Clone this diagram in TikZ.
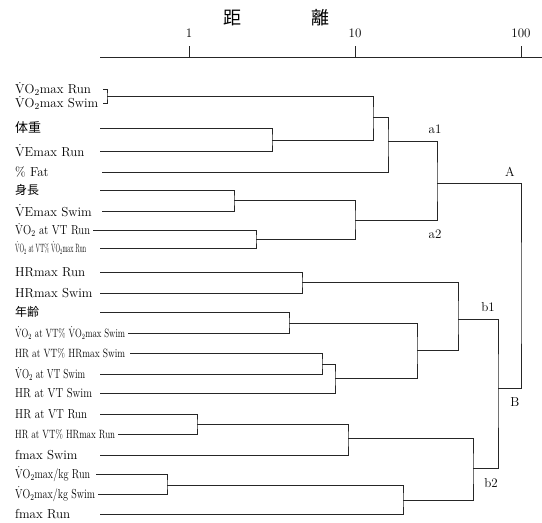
\documentclass[tikz,border=0pt]{standalone}
\usepackage{fontspec}
\newfontfamily\cjk{Noto Sans CJK JP}
\usepackage{tikz}

\newcommand{\Vdot}{$\dot{\mathrm{V}}$}
\newcommand{\Vo}{\Vdot O\textsubscript{2}}
\newcommand{\fitw}[2]{\resizebox{#1pt}{\height}{#2}}

\tikzset{
  lab/.style={anchor=west, inner sep=0pt, font=\fontsize{13}{13}\selectfont},
  small/.style={lab, font=\fontsize{12}{12}\selectfont},
  clab/.style={inner sep=0pt, font=\fontsize{13}{13}\selectfont},
  tree/.style={line width=0.6pt, black!85}
}

\begin{document}
\begin{tikzpicture}[x=1pt, y=-1pt]
\useasboundingbox (0,0) rectangle (542,523);

% title and distance axis
\node[font=\cjk\fontsize{18}{18}\selectfont] (ti1) at (232,18) {距};
\node[font=\cjk\fontsize{18}{18}\selectfont] (ti2) at (320,18) {離};
\coordinate (ax0) at (100,57); \coordinate (ax1) at (542,57);
\draw[tree] (ax0) -- (ax1);
\foreach \x/\t in {189/1, 355/10, 521/100} {
  \node[clab, font=\fontsize{13}{13}\selectfont] (tk\t) at (\x,33) {\t};
  \draw[tree] (\x,46) -- (\x,57);
}

% variable names
\node[lab] (l1) at (15,89) {\Vo max Run};
\node[lab] (l2) at (15,103) {\Vo max Swim};
\node[lab, font=\cjk\fontsize{13}{13}\selectfont] (l3) at (15,128) {体重};
\node[lab] (l4) at (15,151) {\Vdot Emax Run};
\node[lab] (l5) at (15,172) {\% Fat};
\node[lab, font=\cjk\fontsize{12}{12}\selectfont] (l6) at (15,190) {身長};
\node[lab] (l7) at (15,211) {\Vdot Emax Swim};
\node[lab] (l8) at (15,230) {\fitw{75}{\Vo{} at VT Run}};
\node[small] (l9) at (15,248) {\fitw{71}{\Vo{} at VT\% \Vo max Run}};
\node[lab] (l10) at (15,272) {HRmax Run};
\node[lab] (l11) at (15,293) {HRmax Swim};
\node[lab, font=\cjk\fontsize{12}{12}\selectfont] (l12) at (15,312) {年齢};
\node[small] (l13) at (15,333) {\fitw{110}{\Vo{} at VT\% \Vo max Swim}};
\node[small] (l14) at (15,353) {\fitw{110}{HR at VT\% HRmax Swim}};
\node[lab] (l15) at (15,374) {\fitw{70}{\Vo{} at VT Swim}};
\node[lab] (l16) at (15,393) {\fitw{77}{HR at VT Swim}};
\node[lab] (l17) at (15,414) {\fitw{72}{HR at VT Run}};
\node[small] (l18) at (15,434) {\fitw{100}{HR at VT\% HRmax Run}};
\node[lab] (l19) at (15,455) {fmax Swim};
\node[lab] (l20) at (15,474) {\fitw{75}{\Vo max/kg Run}};
\node[lab] (l21) at (15,494) {\fitw{80}{\Vo max/kg Swim}};
\node[lab] (l22) at (15,514) {fmax Run};

% leaf line starts
\foreach \i/\x/\y in {1/103/89, 2/103/103, 3/100/128, 4/100/151, 5/102/172,
    6/100/190, 7/102/211, 8/93/230, 9/100/248, 10/100/272, 11/100/293,
    12/100/312, 13/128/333, 14/130/353, 15/100/374, 16/100/393, 17/100/414,
    18/118/434, 19/100/455, 20/96/474, 21/98/494, 22/100/514}
  \coordinate (s\i) at (\x,\y);

% merge points
\foreach \m/\x/\y in {m1/107/96, m2/272/140, m3/373/117, m4/388/141,
    m5/234/200, m6/256/239, m7/355/220, m8/437/183, m9/302/282,
    m10/289/323, m11/322/364, m12/335/378, m13/417/350, m14/458/319,
    m15/197/424, m16/348/438, m17/167/485, m18/403/500, m19/473/468,
    m20/498/388, m21/521/300}
  \coordinate (\m) at (\x,\y);

% dendrogram
\foreach \m/\a/\b in {m1/s1/s2, m2/s3/s4, m3/m1/m2, m4/m3/s5, m5/s6/s7,
    m6/s8/s9, m7/m5/m6, m8/m4/m7, m9/s10/s11, m10/s12/s13, m11/s14/s15,
    m12/m11/s16, m13/m10/m12, m14/m9/m13, m15/s17/s18, m16/m15/s19,
    m17/s20/s21, m18/m17/s22, m19/m16/m18, m20/m14/m19, m21/m8/m20}
  \draw[tree] (\a) -| (\m) |- (\b);

% cluster names
\node[clab] (ca1) at (435,129) {a1};
\node[clab] (ca2) at (435,234) {a2};
\node[clab] (cA) at (510,172) {A};
\node[clab] (cb1) at (488,307) {b1};
\node[clab] (cb2) at (491,483) {b2};
\node[clab] (cB) at (515,402) {B};
\end{tikzpicture}
\end{document}
